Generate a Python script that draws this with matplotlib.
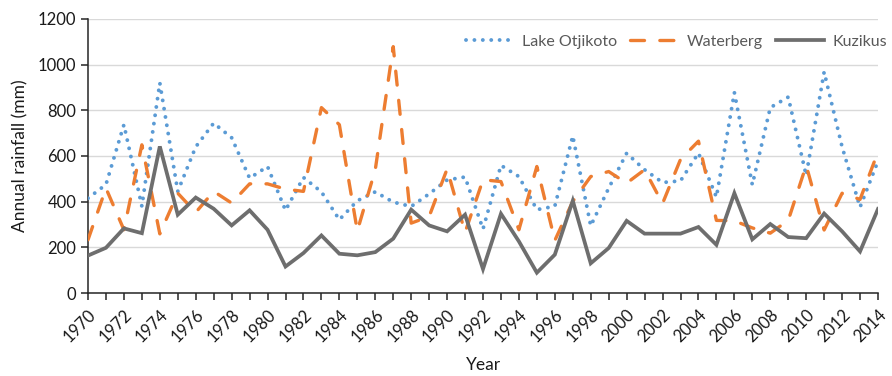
import numpy as np
import matplotlib
matplotlib.use('Agg')
import matplotlib.pyplot as plt

plt.rcParams['font.family'] = ['Lato', 'DejaVu Sans']

years = list(range(1970, 2015))

otjikoto = [415, 475, 737, 380, 920, 445, 640, 744, 680, 503,
            554, 362, 506, 443, 321, 404, 443, 398, 379, 434,
            495, 508, 280, 559, 510, 365, 380, 688, 294, 459,
            612, 540, 484, 491, 613, 420, 878, 474, 812, 858,
            515, 968, 640, 376, 578]

waterberg = [233, 459, 277, 649, 259, 437, 353, 445, 394, 478,
             478, 455, 445, 812, 737, 272, 540, 1079, 306, 335,
             543, 265, 496, 488, 277, 554, 230, 401, 510, 532,
             481, 540, 392, 585, 665, 318, 316, 285, 262, 318,
             559, 276, 437, 410, 618]

kuzikus = [164, 198, 283, 262, 642, 343, 418, 369, 296, 362,
           277, 116, 175, 252, 172, 165, 179, 238, 365, 296,
           270, 343, 105, 347, 226, 89, 168, 404, 130, 197,
           316, 260, 260, 260, 289, 211, 437, 235, 302, 245,
           240, 348, 270, 182, 368]

fig = plt.figure(figsize=(8.92, 3.76), dpi=100)
ax = fig.add_axes([88 / 892, 1 - 293 / 376, 790 / 892, 274 / 376])

ax.plot(years, otjikoto, color='#5b9bd5', lw=2.8, linestyle=(0, (0.01, 2.15)),
        dash_capstyle='round', label='Lake Otjikoto', zorder=3)
ax.plot(years, waterberg, color='#ed7d31', lw=2.4, linestyle=(0, (4.2, 4.6)),
        dash_capstyle='round', label='Waterberg', zorder=3)
ax.plot(years, kuzikus, color='#6e6e6e', lw=2.7, solid_joinstyle='miter',
        label='Kuzikus', zorder=4)

ax.set_xlim(1970, 2014)
ax.set_ylim(0, 1200)
ax.set_yticks(np.arange(0, 1201, 200))
ax.set_xticks(years, minor=True)
ax.set_xticks(years[::2])
ax.set_xticklabels([str(y) for y in years[::2]], rotation=45, ha='right',
                   rotation_mode='anchor')

ax.grid(axis='y', color='#d9d9d9', lw=1)
ax.set_axisbelow(True)
for side in ['top', 'right']:
    ax.spines[side].set_visible(False)
for side in ['left', 'bottom']:
    ax.spines[side].set_color('#262626')
    ax.spines[side].set_linewidth(1.1)
ax.tick_params(axis='both', which='both', direction='out', length=5,
               width=1.1, color='#262626', labelsize=12, labelcolor='#1a1a1a')
ax.tick_params(axis='x', which='major', pad=5)

ax.set_ylabel('Annual rainfall (mm)', fontsize=12.5, color='#1a1a1a', labelpad=7)
ax.set_xlabel('Year', fontsize=12.5, color='#1a1a1a', labelpad=8)

leg = ax.legend(loc='upper right', bbox_to_anchor=(1.03, 0.995), ncol=3,
                frameon=False, fontsize=11.5, handlelength=3.0, handletextpad=0.55,
                columnspacing=0.8)
for t in leg.get_texts():
    t.set_color('#595959')

fig.savefig('out.png', dpi=100)
